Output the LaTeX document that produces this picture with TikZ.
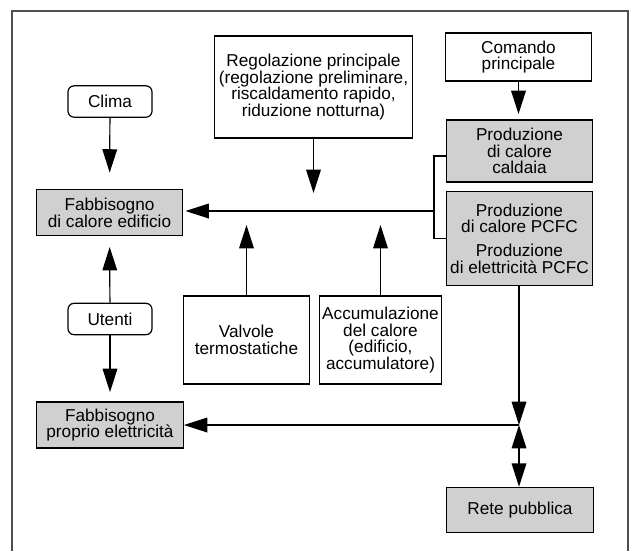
\documentclass[tikz,border=0pt]{standalone}
\usepackage{fontspec}
\setmainfont{Liberation Sans}
\usetikzlibrary{arrows.meta}

\definecolor{boxgray}{RGB}{208,208,208}
\definecolor{framegray}{RGB}{80,80,80}

\begin{document}
\begin{tikzpicture}[x=0.75pt, y=-0.75pt,
    font=\fontsize{12.9}{12.6}\selectfont,
    >={Triangle[length=17.5pt,width=11pt]},
    box/.style={draw, line width=0.9pt, align=center, inner sep=1.5pt},
    graybox/.style={box, fill=boxgray},
    roundbox/.style={box, rounded corners=4.5pt, minimum width=63pt, minimum height=23.5pt},
    link/.style={line width=0.9pt}]
\useasboundingbox (0,0) rectangle (631,551);

% frame, open at the bottom
\draw[framegray, line width=0.9pt] (12,551) -- (12,11) -- (628,11) -- (628,551);

% left column
\node[roundbox] (clima) at (110,101.5) {Clima};
\node[graybox, minimum width=110pt, minimum height=35pt] (fabbcal) at (109.5,212.5) {Fabbisogno\\di calore edificio};
\node[roundbox] (utenti) at (110,319) {Utenti};
\node[graybox, minimum width=110pt, minimum height=34.5pt] (fabbel) at (110,425) {Fabbisogno\\proprio elettricità};

% middle
\node[box, minimum width=149pt, minimum height=76.5pt] (regol) at (313.5,87)
    {Regolazione principale\\(regolazione preliminare,\\riscaldamento rapido,\\riduzione notturna)};
\node[box, minimum width=94pt, minimum height=66pt] (valv) at (246.5,340) {Valvole\\termostatiche};
\node[box, minimum width=92pt, minimum height=66pt] (accum) at (380.5,340)
    {Accumulazione\\del calore\\(edificio,\\accumulatore)};

% right column
\node[box, minimum width=110pt, minimum height=36pt] (comando) at (518.5,57) {Comando\\principale};
\node[graybox, minimum width=110pt, minimum height=46.5pt] (caldaia) at (519.5,151) {Produzione\\di calore\\caldaia};
\node[graybox, minimum width=110pt, minimum height=71pt] (pcfc) at (519.5,238.5)
    {Produzione\\di calore PCFC\\[5pt]Produzione\\di elettricità PCFC};
\node[graybox, minimum width=110pt, minimum height=34pt] (rete) at (520,510) {Rete pubblica};

\coordinate (brk) at (434,211);
\coordinate (junc) at (519,425);

% connectors
\draw[link, ->, shorten >=12pt] (clima) -- (fabbcal);
\draw[link, ->, shorten >=8pt] (utenti) -- (fabbcal);
\draw[link, ->, shorten >=7pt] (utenti) -- (fabbel);
\draw[link, ->, shorten >=4pt] (comando) -- (comando |- caldaia.north);

\draw[link] ([yshift=-3.75pt]caldaia.west) -| (brk) |- (pcfc.west);
\draw[link, ->, shorten >=1.5pt] (brk) -- (brk -| fabbcal.east);

\draw[link, ->, shorten >=13.5pt] (regol.south) -- (regol.south |- brk);
\draw[link, ->, shorten >=10.5pt] (valv.north) -- (valv.north |- brk);
\draw[link, ->, shorten >=10.5pt] (accum.north) -- (accum.north |- brk);

\draw[link, ->] (pcfc.south -| junc) -- (junc);
\draw[link, ->] (junc) -- (junc -| fabbel.east);
\draw[link, <->] (junc) -- (junc |- rete.north);

\end{tikzpicture}
\end{document}
